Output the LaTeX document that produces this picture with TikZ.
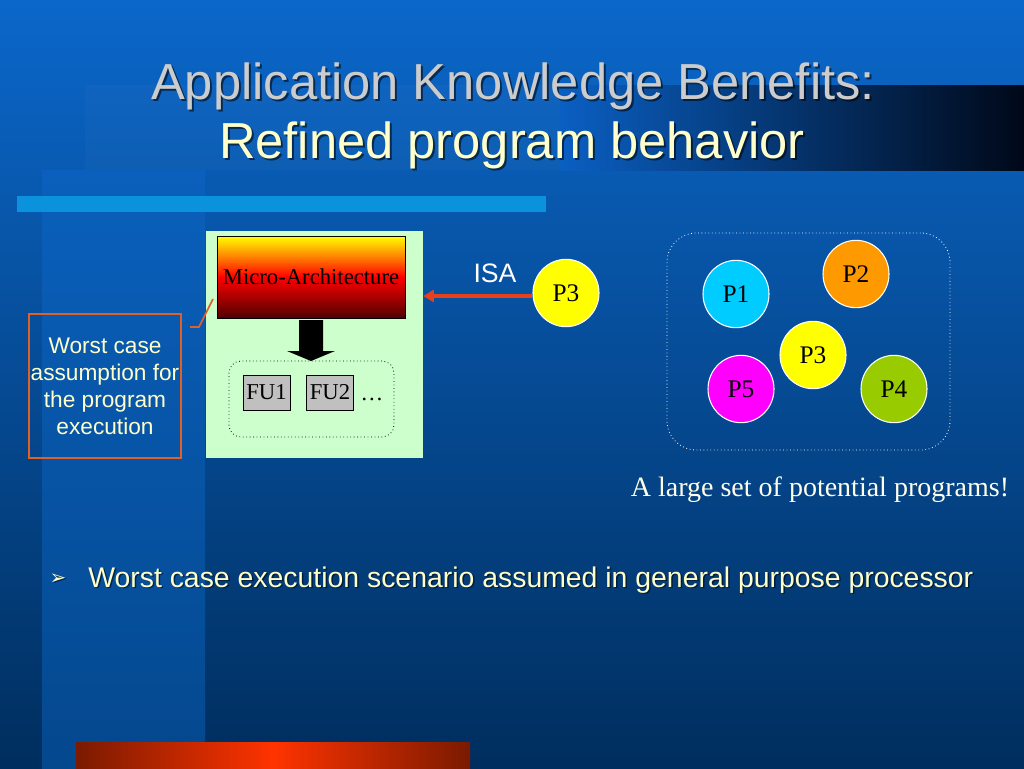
\documentclass[tikz,border=0pt]{standalone}
\usepackage{fontspec}
\setmainfont{Liberation Serif}
\setsansfont{Liberation Sans}
\newfontfamily\symfont{DejaVu Sans}
\usetikzlibrary{shapes.geometric,arrows.meta,shadings}
\definecolor{bgtop}{HTML}{0B67CA}
\definecolor{bgbot}{HTML}{002E5E}
\definecolor{stripetop}{HTML}{0A60BC}
\definecolor{stripebot}{HTML}{04488E}
\definecolor{barblue}{HTML}{0A92DC}
\definecolor{titlegray}{HTML}{CCCCCC}
\definecolor{creamy}{HTML}{FFFFCC}
\definecolor{greenfill}{HTML}{CCFFCC}
\definecolor{orangeline}{HTML}{E0602A}
\definecolor{arrowred}{HTML}{E8401A}
\definecolor{fugray}{HTML}{C0C0C0}
\definecolor{pyellow}{HTML}{FFFF00}
\definecolor{pcyan}{HTML}{00CCFF}
\definecolor{porange}{HTML}{FF9900}
\definecolor{pmagenta}{HTML}{FF00FF}
\definecolor{pgreen}{HTML}{99CC00}
\definecolor{mdark}{HTML}{500000}
\definecolor{mred}{HTML}{FF0000}
\definecolor{morange}{HTML}{FF8800}
\definecolor{myellow}{HTML}{FFFF00}
\definecolor{bardark}{HTML}{7A1A00}
\definecolor{barbright}{HTML}{FF3300}
\definecolor{bandblue}{HTML}{0A5FC2}
\definecolor{bandblack}{HTML}{000818}
\pgfdeclareverticalshading{microshade}{100bp}{color(0bp)=(mdark); color(25bp)=(mdark); color(50bp)=(mred); color(63bp)=(morange); color(75bp)=(myellow); color(100bp)=(myellow)}
\tikzset{
  titleA/.style={font=\sffamily\fontsize{38}{44}\selectfont, text=titlegray, anchor=base, inner sep=0pt},
  titleB/.style={font=\sffamily\fontsize{38}{44}\selectfont, text=creamy, anchor=base, inner sep=0pt},
  shadowtxt/.style={font=\sffamily\fontsize{38}{44}\selectfont, text=black, opacity=0.55, anchor=base, inner sep=0pt},
  greenbox/.style={fill=greenfill, draw=none, rectangle, inner sep=0pt},
  microbox/.style={rectangle, draw=black, line width=0.6pt, shading=microshade, inner sep=0pt, font=\fontsize{17}{20}\selectfont},
  fubox/.style={rectangle, draw=black, line width=0.6pt, fill=fugray, inner sep=0pt, minimum width=35.25pt, minimum height=26.25pt, font=\fontsize{17}{20}\selectfont},
  dotbox/.style={rectangle, draw=black, dotted, line width=0.6pt, inner sep=0pt},
  wdotbox/.style={rectangle, draw=white, dotted, line width=0.6pt, inner sep=0pt},
  orbox/.style={rectangle, draw=orangeline, line width=1.3pt, inner sep=0pt, align=center, text=creamy, font=\sffamily\fontsize{17}{20.2}\selectfont},
  prog/.style={ellipse, draw=white, line width=0.8pt, minimum width=49.5pt, minimum height=50.5pt, inner sep=0pt, font=\fontsize{19}{22}\selectfont},
  bodytxt/.style={font=\sffamily\fontsize{21.3}{25}\selectfont, text=creamy, anchor=base west, inner sep=0pt},
  bodyshadow/.style={font=\sffamily\fontsize{21.3}{25}\selectfont, text=black, opacity=0.5, anchor=base west, inner sep=0pt},
}
\begin{document}
\begin{tikzpicture}[x=0.75pt,y=-0.75pt]
\useasboundingbox (0,0) rectangle (1024,768);
% background
\shade[top color=bgtop, bottom color=bgbot] (0,0) rectangle (1024,768);
\shade[top color=stripetop, bottom color=stripebot] (42,170) rectangle (205,768);
% title band
\shade[left color=bandblue, right color=bandblack] (560,85) rectangle (1024,170);
\fill[white, opacity=0.025] (85,85) rectangle (560,170);
% light-blue bar
\fill[barblue] (17,196) rectangle (546,212);
% bottom bar
\shade[left color=bardark, right color=bardark, middle color=barbright] (76,742) rectangle (470,768);
% title
\node[shadowtxt] at (515,101) {Application Knowledge Benefits:};
\node[titleA] (t1) at (513,99) {Application Knowledge Benefits:};
\node[shadowtxt] at (514,160) {Refined program behavior};
\node[titleB] (t2) at (512,158) {Refined program behavior};
% left diagram
\node[greenbox, minimum width=162.75pt, minimum height=170.25pt] (gbox) at (314.5,344.5) {};
\node[microbox, minimum width=141pt, minimum height=61.5pt] (micro) at (311,277) {Micro-Architecture};
\fill[black] (299,320) -- (323,320) -- (323,351) -- (335,351) -- (311,361) -- (287,351) -- (299,351) -- cycle;
\node[dotbox, rounded corners=9pt, minimum width=123.75pt, minimum height=57pt] (fubag) at (311.5,399) {};
\node[fubox] (fu1) at (266.5,392.5) {\raisebox{-2pt}{FU1}};
\node[fubox] (fu2) at (330,392.5) {\raisebox{1pt}{FU2}};
\node[inner sep=0pt, font=\fontsize{17}{20}\selectfont] (dots) at (372,399) {\dots};
% worst case box
\node[orbox, minimum width=114pt, minimum height=108pt] (wc) at (105,386) {Worst case\\assumption for\\the program\\execution};
\coordinate (c1) at (190,327);
\coordinate (c2) at (199,327);
\coordinate (c3) at (213,299);
\draw[orangeline, line width=1.3pt] (c1) -- (c2) -- (c3);
% P3 and ISA arrow
\node[prog, fill=pyellow] (p3a) at (566,293) {P3};
\draw[arrowred, line width=2.3pt, -{Triangle[length=8pt,width=9pt]}] (p3a.west |- 0,296) -- (gbox.east |- 0,296);
\node[font=\sffamily\fontsize{20}{24}\selectfont, text=white, inner sep=0pt] (isa) at (495,273) {ISA};
% program set
\node[wdotbox, rounded corners=22pt, minimum width=212.25pt, minimum height=162.75pt] (set) at (808.5,341.5) {};
\node[prog, fill=pcyan] (p1) at (736,294) {P1};
\node[prog, fill=porange] (p2) at (856,274) {P2};
\node[prog, fill=pyellow] (p3b) at (813,355) {P3};
\node[prog, fill=pmagenta] (p5) at (741,389) {P5};
\node[prog, fill=pgreen] (p4) at (894,389) {P4};
\node[font=\fontsize{21}{25}\selectfont, text=white!92!yellow, inner sep=0pt] (cap) at (820,490) {A large set of potential programs!};
% bullet
\node[font=\symfont\fontsize{15}{17}\selectfont, text=black, opacity=0.5, inner sep=0pt] at (59.5,580.5) {➢};
\node[font=\symfont\fontsize{15}{17}\selectfont, text=creamy, inner sep=0pt] (bul) at (58,579) {➢};
\node[bodyshadow] at (89.5,588.5) {Worst case execution scenario assumed in general purpose processor};
\node[bodytxt] (body) at (88,587) {Worst case execution scenario assumed in general purpose processor};
\end{tikzpicture}
\end{document}
